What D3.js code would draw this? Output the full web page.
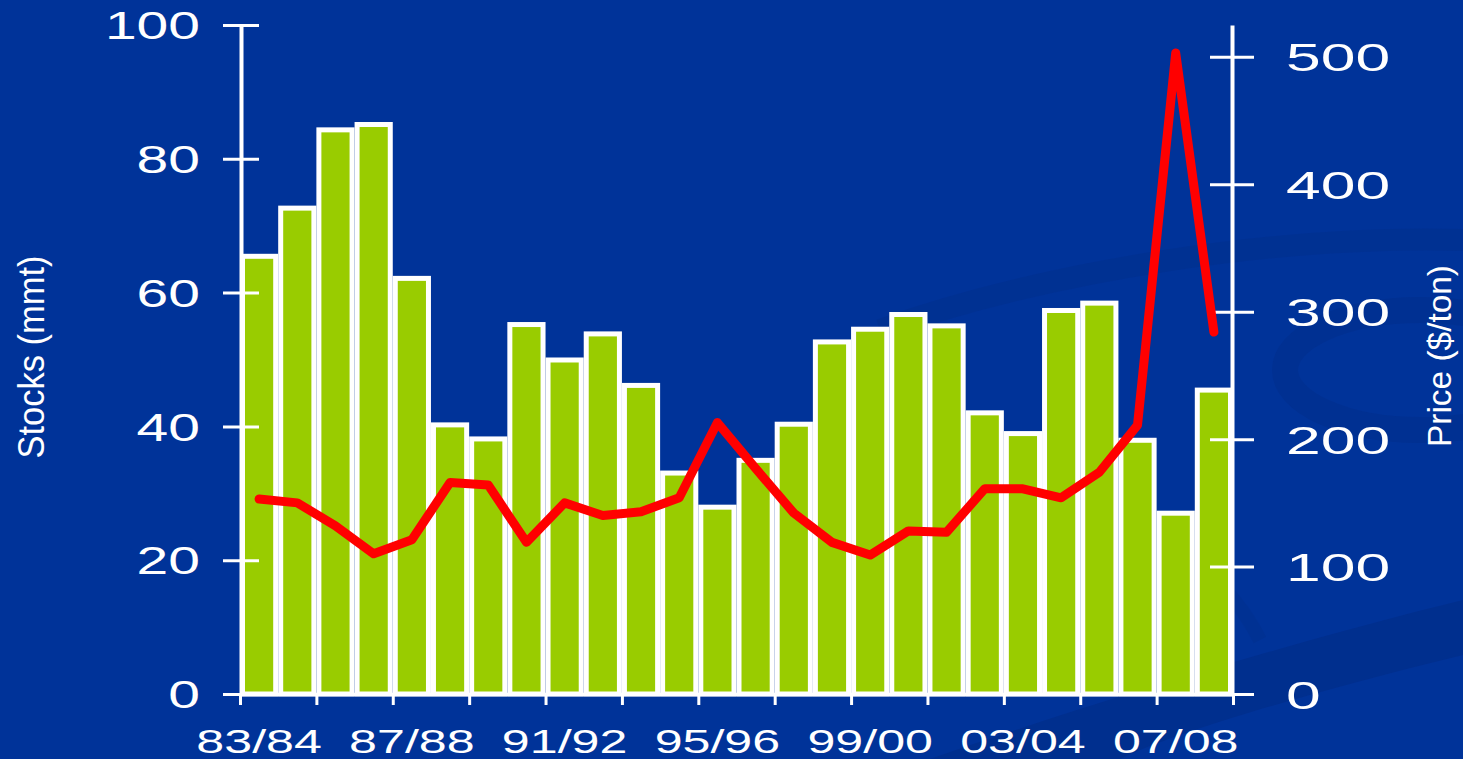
<!DOCTYPE html>
<html>
<head>
<meta charset="utf-8">
<script src="https://cdn.jsdelivr.net/npm/d3@7"></script>
<style>
    html, body {margin: 0; padding: 0; background: #003399; overflow: hidden;}
    text {font-family: "Liberation Sans", Arial, sans-serif; fill: #ffffff;}
</style>
</head>
<body>
<svg id="chart" width="1463" height="759"></svg>
<script>
const seasons = ["83/84", "84/85", "85/86", "86/87", "87/88", "88/89", "89/90", "90/91", "91/92",
    "92/93", "93/94", "94/95", "95/96", "96/97", "97/98", "98/99", "99/00", "00/01", "01/02",
    "02/03", "03/04", "04/05", "05/06", "06/07", "07/08", "08/09"];
// ending stocks, million metric tons (left axis)
const stocks = [65.8, 73, 84.7, 85.5, 62.5, 40.6, 38.5, 55.6, 50.3, 54.2, 46.5, 33.4, 28.3,
    35.3, 40.7, 53, 54.9, 57.1, 55.4, 42.4, 39.3, 57.7, 58.8, 38.3, 27.4, 45.8];
// price, $/ton (right axis)
const prices = [153, 150, 132, 110, 121, 166, 164, 119, 150, 140, 143, 154, 213,
    177, 142, 119, 109, 128, 127, 161, 161, 154, 174, 211, 503, 284];
const labelSeasons = ["83/84", "87/88", "91/92", "95/96", "99/00", "03/04", "07/08"];
const leftTicks = [0, 20, 40, 60, 80, 100];
const rightTicks = [0, 100, 200, 300, 400, 500];
const edgeTicks = [0, 2, 4, 6, 8, 10, 12, 14, 16, 18, 20, 22, 24, 26];

const width = 1463;
const height = 759;
const plot = ({left: 240, right: 1233, top: 25, bottom: 694});

const svg = d3.select("#chart");

// faint background swooshes
const deco = svg.append("g").attr("class", "deco");
deco.append("path")
    .attr("d", "M930,759 C1100,700 1300,640 1463,600 L1463,655 C1320,690 1180,730 1120,759 Z")
    .attr("fill", "#002a80")
    .attr("opacity", 0.45);
deco.append("path")
    .attr("d", "M880,330 C1050,270 1280,235 1463,240")
    .attr("fill", "none")
    .attr("stroke", "#002d88")
    .attr("stroke-width", 22)
    .attr("opacity", 0.35);
deco.append("ellipse")
    .attr("cx", 1420).attr("cy", 370)
    .attr("rx", 135).attr("ry", 60)
    .attr("fill", "none")
    .attr("stroke", "#002d88")
    .attr("stroke-width", 26)
    .attr("opacity", 0.4);
deco.append("path")
    .attr("d", "M1000,470 C1120,500 1220,560 1260,640")
    .attr("fill", "none")
    .attr("stroke", "#002d88")
    .attr("stroke-width", 14)
    .attr("opacity", 0.3);

const xBand = d3.scaleBand()
    .domain(seasons)
    .range([plot.left, plot.right])
    .padding(0);

const xIdx = d3.scaleLinear()
    .domain([0, seasons.length])
    .range([plot.left, plot.right]);

const yLeft = d3.scaleLinear()
    .domain([0, 100])
    .range([plot.bottom, plot.top]);

const yRight = d3.scaleLinear()
    .domain([0, 525])
    .range([plot.bottom, plot.top]);

// bars: green fill, thick white outline
const bw = xBand.bandwidth();
svg.append("g")
    .attr("class", "bars")
    .selectAll("rect")
    .data(stocks)
    .join("rect")
    .attr("x", (d, i) => xBand(seasons[i]) + 2.5)
    .attr("y", d => yLeft(d) + 2.5)
    .attr("width", bw - 5)
    .attr("height", d => plot.bottom - yLeft(d) - 2.5)
    .attr("fill", "#99cc00")
    .attr("stroke", "#ffffff")
    .attr("stroke-width", 5);

// x axis: tick marks on every second boundary
svg.append("g")
    .attr("class", "x-ticks")
    .attr("transform", `translate(0, ${plot.bottom})`)
    .call(d3.axisBottom(xIdx).tickValues(edgeTicks).tickFormat("").tickSize(11).tickSizeOuter(0))
    .call(g => g.select(".domain").attr("stroke", "#fff").attr("stroke-width", 3.5))
    .call(g => g.selectAll(".tick line").attr("stroke", "#fff").attr("stroke-width", 3));

svg.append("g")
    .attr("class", "x-labels")
    .attr("transform", `translate(0, ${plot.bottom})`)
    .call(d3.axisBottom(xBand).tickValues(labelSeasons).tickSize(0).tickPadding(0))
    .call(g => g.select(".domain").remove())
    .call(g => g.selectAll(".tick text")
        .attr("y", 59)
        .attr("dy", null)
        .attr("font-size", 33)
        .attr("fill", "#fff")
        .attr("font-family", "Liberation Sans, Arial, sans-serif"));

// left axis, ticks cross the line
svg.append("g")
    .attr("class", "y-left")
    .attr("transform", `translate(${plot.left + 1}, 0)`)
    .call(d3.axisLeft(yLeft).tickValues(leftTicks).tickSizeOuter(0))
    .call(g => g.select(".domain").attr("stroke", "#fff").attr("stroke-width", 4))
    .call(g => g.selectAll(".tick line")
        .attr("x1", 18).attr("x2", -18)
        .attr("stroke", "#fff").attr("stroke-width", 3))
    .call(g => g.selectAll(".tick text")
        .attr("x", -41)
        .attr("dy", "0.36em")
        .attr("font-size", 38)
        .attr("fill", "#fff")
        .attr("font-family", "Liberation Sans, Arial, sans-serif"));

// right axis
svg.append("g")
    .attr("class", "y-right")
    .attr("transform", `translate(${plot.right - 1}, 0)`)
    .call(d3.axisRight(yRight).tickValues(rightTicks).tickSizeOuter(0))
    .call(g => g.select(".domain").attr("stroke", "#fff").attr("stroke-width", 4))
    .call(g => g.selectAll(".tick line")
        .attr("x1", -22).attr("x2", 22)
        .attr("stroke", "#fff").attr("stroke-width", 3))
    .call(g => g.selectAll(".tick text")
        .attr("x", 54)
        .attr("dy", "0.36em")
        .attr("font-size", 39)
        .attr("fill", "#fff")
        .attr("font-family", "Liberation Sans, Arial, sans-serif"));

// price line
const line = d3.line()
    .x((d, i) => xBand(seasons[i]) + bw / 2)
    .y(d => yRight(d));

svg.append("path")
    .datum(prices)
    .attr("fill", "none")
    .attr("stroke", "#ff0000")
    .attr("stroke-width", 9)
    .attr("stroke-linejoin", "round")
    .attr("stroke-linecap", "round")
    .attr("d", line);

// axis titles (squeezed, as in the original)
svg.append("text")
    .attr("transform", `translate(44, 357) rotate(-90)`)
    .attr("text-anchor", "middle")
    .attr("font-size", 36)
    .attr("textLength", 203)
    .attr("lengthAdjust", "spacingAndGlyphs")
    .text("Stocks (mmt)");

svg.append("text")
    .attr("transform", `translate(1451, 356) rotate(-90)`)
    .attr("text-anchor", "middle")
    .attr("font-size", 33)
    .attr("textLength", 182)
    .attr("lengthAdjust", "spacingAndGlyphs")
    .text("Price ($/ton)");

// the tick labels in the original are drawn wide; stretch them
const stretch = (sel, k) => sel.each(function () {
    const len = this.getComputedTextLength();
    d3.select(this)
        .attr("textLength", len * k)
        .attr("lengthAdjust", "spacingAndGlyphs");
});
svg.selectAll(".y-left .tick text").call(stretch, 1.5);
svg.selectAll(".y-right .tick text").call(stretch, 1.6);
svg.selectAll(".x-labels .tick text").call(stretch, 1.52);
</script>
</body>
</html>
